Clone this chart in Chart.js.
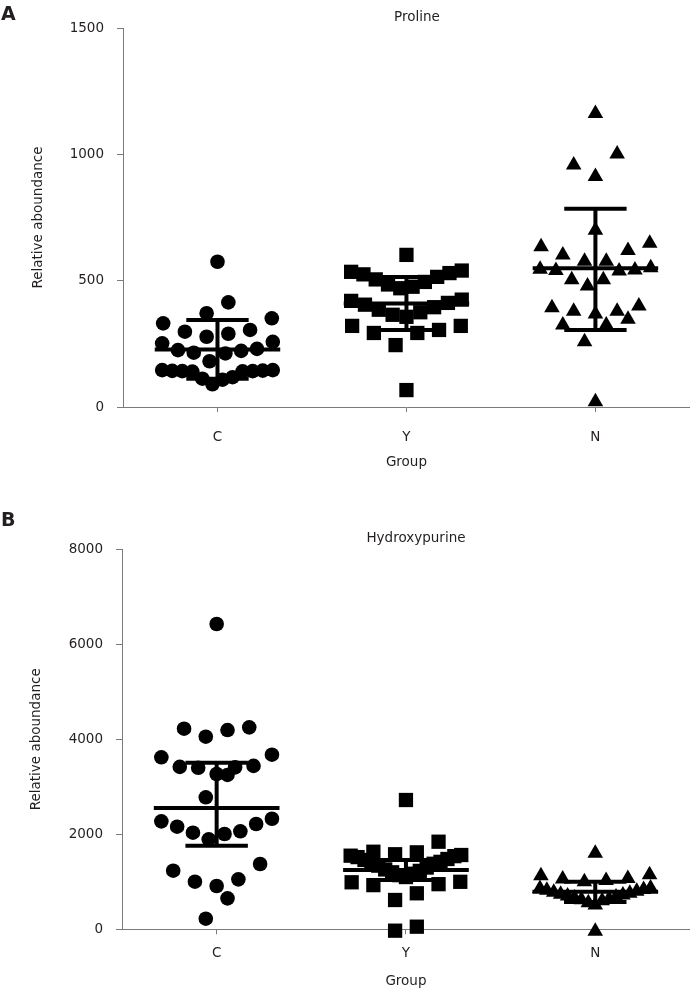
<!DOCTYPE html>
<html>
<head>
<meta charset="utf-8">
<script src="https://cdn.jsdelivr.net/npm/chart.js@4.4.1/dist/chart.umd.min.js"></script>
<style>
  body { margin: 0; background: #fff; }
  canvas { display: block; }
</style>
</head>
<body>
<canvas id="proline" width="700" height="480"></canvas>
<canvas id="hydroxy" width="700" height="513"></canvas>
<script>
// --- data ---
const groups = ['C', 'Y', 'N'];

const prolineC = [575, 414, 371, 351, 331, 305, 298, 290, 278, 258, 252, 230, 222, 215, 212, 225, 181,
    146, 144, 143, 142, 142, 141, 140, 146, 118, 112, 108, 90];
const prolineY = [602, 540, 535, 530, 525, 515, 505, 495, 485, 476, 470, 425, 420, 412, 405, 395, 385,
    375, 365, 357, 321, 321, 305, 293, 293, 245, 67];
const prolineN = [1162, 1001, 958, 912, 700, 648, 634, 619, 602, 577, 577, 551, 545, 542, 540, 538, 504,
    504, 479, 400, 393, 379, 379, 368, 347, 325, 325, 258, 21];
const prolineMean = [228, 410, 549];
const prolineLow = [112, 305, 305];
const prolineHigh = [344, 515, 785];
const prolineTicks = [0, 500, 1000, 1500];

const hydroxyC = [6427, 4252, 4223, 4195, 4055, 3676, 3621, 3440, 3420, 3410, 3400, 3270, 3250, 2779,
    2328, 2273, 2217, 2160, 2063, 2034, 2006, 1894, 1375, 1234, 1052, 1002, 911, 652, 223];
const hydroxyY = [2722, 1844, 1633, 1620, 1580, 1564, 1550, 1540, 1520, 1480, 1460, 1420, 1400, 1380,
    1340, 1300, 1260, 1230, 1200, 1170, 1140, 1100, 1000, 990, 950, 930, 758, 617, 55, -29];
const hydroxyN = [1600, 1150, 1130, 1070, 1060, 1030, 1000, 870, 860, 840, 820, 800, 780, 760, 740,
    720, 700, 680, 660, 640, 620, 600, 560, 514, -40];
const hydroxyMean = [2553, 1248, 792];
const hydroxyLow = [1760, 1038, 577];
const hydroxyHigh = [3507, 1460, 1000];
const hydroxyTicks = [0, 2000, 4000, 6000, 8000];

// --- styling ---
const TEXT = '#231f20';
const AXIS = '#7a7a7a';
const FONT_SIZE = 13.5;
const ROW_PX = 22.5;       // values this close (in px) share one swarm row
const ROW_WIDTH_PX = 112;  // widest a row may spread
const MAX_STEP_PX = 22;    // horizontal step for sparse rows
const MEAN_HALF = 0.332;
const CAP_HALF = 0.165;

Chart.defaults.font.family = '"DejaVu Sans", Verdana, sans-serif';
Chart.defaults.font.size = FONT_SIZE;
Chart.defaults.color = TEXT;

// prism-like scatter layout: rows of close values, lowest in the middle, higher ones pushed outward
function swarm(values, groupIndex, unitsPerPx, pxPerX) {
    const sorted = values.slice().sort((a, b) => a - b);
    const rows = [];
    sorted.forEach(v => {
        const row = rows[rows.length - 1];
        if (row && (v - row[0]) / unitsPerPx <= ROW_PX) row.push(v);
        else rows.push([v]);
    });
    const points = [];
    rows.forEach(row => {
        const n = row.length;
        const step = n > 1 ? Math.min(MAX_STEP_PX, ROW_WIDTH_PX / (n - 1)) : 0;
        row.forEach((v, i) => {
            let slot;
            if (n % 2) slot = i === 0 ? 0 : (i % 2 ? -1 : 1) * Math.ceil(i / 2);
            else slot = (i % 2 ? 1 : -1) * (Math.floor(i / 2) + 0.5);
            points.push({ x: groupIndex + 0.5 + slot * step / pxPerX, y: v });
        });
    });
    return points;
}

const errorBars = {
    id: 'errorBars',
    afterDatasetsDraw(chart, args, opts) {
        const { ctx, scales: { x, y } } = chart;
        const seg = (x1, y1, x2, y2) => {
            ctx.beginPath();
            ctx.moveTo(x.getPixelForValue(x1), y.getPixelForValue(y1));
            ctx.lineTo(x.getPixelForValue(x2), y.getPixelForValue(y2));
            ctx.stroke();
        };
        ctx.save();
        ctx.strokeStyle = '#000';
        ctx.lineWidth = 4;
        opts.mean.forEach((m, i) => {
            const c = i + 0.5;
            seg(c - MEAN_HALF, m, c + MEAN_HALF, m);
            seg(c, opts.low[i], c, opts.high[i]);
            seg(c - CAP_HALF, opts.low[i], c + CAP_HALF, opts.low[i]);
            seg(c - CAP_HALF, opts.high[i], c + CAP_HALF, opts.high[i]);
        });
        ctx.restore();
    }
};

const panelText = {
    id: 'panelText',
    afterDraw(chart, args, opts) {
        const ctx = chart.ctx;
        ctx.save();
        ctx.fillStyle = TEXT;
        ctx.textBaseline = 'alphabetic';
        ctx.textAlign = 'left';
        ctx.font = 'bold 19px "DejaVu Sans"';
        ctx.fillText(opts.letter, 1, opts.letterY);
        ctx.textAlign = 'center';
        ctx.font = FONT_SIZE + 'px "DejaVu Sans"';
        ctx.fillText(opts.title, opts.titleX, opts.titleY);
        ctx.restore();
    }
};

function makePanel(id, p) {
    const yMax = p.ticks[p.ticks.length - 1];
    const upp = (yMax - p.ticks[0]) / (p.bottom - p.top);
    const pxPerX = (697 - p.left) / groups.length;
    const half = FONT_SIZE * 1.2 / 2;
    const padLeft = p.yTitleX - half - 4;
    const xAxisH = p.xTitleY + half + 4 - p.bottom;
    const styles = [['circle', 7.3], ['rect', 10.1], ['triangle', 9]];

    return new Chart(document.getElementById(id), {
        type: 'scatter',
        data: {
            datasets: p.series.map((vals, i) => ({
                label: groups[i],
                data: swarm(vals, i, upp, pxPerX),
                pointStyle: styles[i][0],
                pointRadius: styles[i][1],
                pointHoverRadius: styles[i][1],
                pointBackgroundColor: '#000',
                pointBorderWidth: 0,
                clip: false
            }))
        },
        options: {
            responsive: false,
            devicePixelRatio: 1,
            animation: false,
            layout: {
                padding: { left: padLeft, right: 3, top: p.top, bottom: p.height - p.bottom - xAxisH }
            },
            plugins: {
                legend: { display: false },
                tooltip: { enabled: false },
                errorBars: { mean: p.mean, low: p.low, high: p.high },
                panelText: p.text
            },
            scales: {
                x: {
                    type: 'linear',
                    min: 0,
                    max: groups.length,
                    afterBuildTicks: s => { s.ticks = groups.map((g, i) => ({ value: i + 0.5 })); },
                    afterFit: s => { s.height = xAxisH; },
                    ticks: {
                        autoSkip: false,
                        maxRotation: 0,
                        padding: p.xTickY - p.bottom - 5 - half,
                        callback: (v, i) => groups[i]
                    },
                    grid: { drawOnChartArea: false, tickLength: 5, color: AXIS },
                    border: { color: AXIS },
                    title: { display: true, text: 'Group', padding: { top: 4, bottom: 4 } }
                },
                y: {
                    min: p.ticks[0],
                    max: yMax,
                    afterBuildTicks: s => { s.ticks = p.ticks.map(v => ({ value: v })); },
                    afterFit: s => { s.width = p.left - padLeft; },
                    ticks: { padding: 13, callback: v => String(v) },
                    grid: { drawOnChartArea: false, tickLength: 6, color: AXIS },
                    border: { color: AXIS },
                    title: { display: true, text: 'Relative aboundance', padding: { top: 4, bottom: 4 } }
                }
            }
        },
        plugins: [errorBars, panelText]
    });
}

makePanel('proline', {
    series: [prolineC, prolineY, prolineN],
    mean: prolineMean, low: prolineLow, high: prolineHigh, ticks: prolineTicks,
    height: 480, top: 28, bottom: 407, left: 123,
    yTitleX: 38.5, xTickY: 437, xTitleY: 462,
    text: { letter: 'A', letterY: 20, title: 'Proline', titleX: 417, titleY: 20.5 }
});

makePanel('hydroxy', {
    series: [hydroxyC, hydroxyY, hydroxyN],
    mean: hydroxyMean, low: hydroxyLow, high: hydroxyHigh, ticks: hydroxyTicks,
    height: 513, top: 69.3, bottom: 449.3, left: 122,
    yTitleX: 36, xTickY: 473, xTitleY: 501.5,
    text: { letter: 'B', letterY: 45.5, title: 'Hydroxypurine', titleX: 416, titleY: 61.5 }
});
</script>
</body>
</html>
